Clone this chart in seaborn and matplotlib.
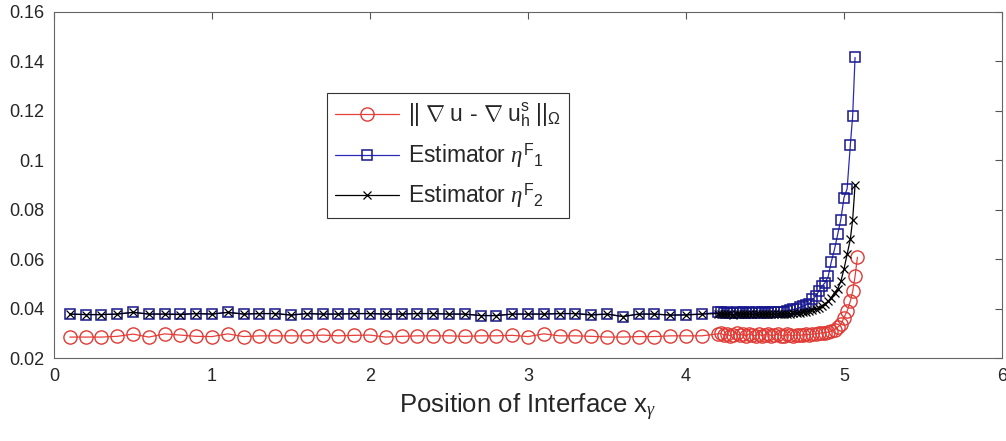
import numpy as np
import pandas as pd
import matplotlib
matplotlib.use("Agg")
import matplotlib.pyplot as plt
import seaborn as sns
from matplotlib.ticker import FixedLocator, FuncFormatter

sns.set_theme(style="white")
plt.rcParams['font.family'] = ['Liberation Sans', 'DejaVu Sans']
plt.rcParams['mathtext.fontset'] = 'custom'
plt.rcParams['mathtext.rm'] = 'Liberation Sans'
plt.rcParams['mathtext.it'] = 'Liberation Serif:italic'
plt.rcParams['mathtext.bf'] = 'Liberation Sans:bold'

# interface positions: coarse sweep, then a fine sweep near the right end
x_uniform = [0.1, 0.2, 0.3, 0.4, 0.5, 0.6, 0.7, 0.8, 0.9, 1.0,
             1.1, 1.2, 1.3, 1.4, 1.5, 1.6, 1.7, 1.8, 1.9, 2.0,
             2.1, 2.2, 2.3, 2.4, 2.5, 2.6, 2.7, 2.8, 2.9, 3.0,
             3.1, 3.2, 3.3, 3.4, 3.5, 3.6, 3.7, 3.8, 3.9, 4.0,
             4.1, 4.2]
x_dense = [4.22, 4.24, 4.26, 4.28, 4.30, 4.32, 4.34, 4.36, 4.38, 4.40,
           4.42, 4.44, 4.46, 4.48, 4.50, 4.52, 4.54, 4.56, 4.58, 4.60,
           4.62, 4.64, 4.66, 4.68, 4.70, 4.72, 4.74, 4.76, 4.78, 4.80,
           4.82, 4.84, 4.86, 4.88, 4.90, 4.92, 4.94, 4.96, 4.98, 5.00,
           5.02, 5.04, 5.055, 5.07]
x_err_extra = [5.085]

err_uniform = [0.0285, 0.0285, 0.0285, 0.0288, 0.0297, 0.0285, 0.0298, 0.0293, 0.0288, 0.0287,
               0.0298, 0.0287, 0.0290, 0.0290, 0.0290, 0.0290, 0.0293, 0.0290, 0.0292, 0.0293,
               0.0285, 0.0288, 0.0290, 0.0290, 0.0290, 0.0288, 0.0290, 0.0290, 0.0292, 0.0287,
               0.0298, 0.0290, 0.0290, 0.0288, 0.0285, 0.0285, 0.0287, 0.0287, 0.0290, 0.0290,
               0.0290, 0.0298]
err_dense = [0.0300, 0.0293, 0.0297, 0.0290, 0.0295, 0.0300, 0.0292, 0.0296, 0.0290, 0.0298,
             0.0293, 0.0290, 0.0297, 0.0291, 0.0295, 0.0299, 0.0290, 0.0294, 0.0297, 0.0291,
             0.0290, 0.0296, 0.0292, 0.0290, 0.0295, 0.0292, 0.0294, 0.0296, 0.0295, 0.0297,
             0.0298, 0.0300, 0.0302, 0.0303, 0.0305, 0.0310, 0.0315, 0.0325, 0.0336, 0.0364,
             0.0390, 0.0430, 0.0470, 0.0530]
err_extra = [0.0608]

est1_uniform = [0.0378, 0.0376, 0.0376, 0.0378, 0.0385, 0.0378, 0.0378, 0.0378, 0.0380, 0.0378,
                0.0385, 0.0378, 0.0380, 0.0380, 0.0374, 0.0380, 0.0378, 0.0378, 0.0380, 0.0380,
                0.0378, 0.0378, 0.0380, 0.0380, 0.0378, 0.0378, 0.0372, 0.0372, 0.0378, 0.0378,
                0.0378, 0.0380, 0.0380, 0.0376, 0.0378, 0.0368, 0.0378, 0.0378, 0.0374, 0.0376,
                0.0378, 0.0385]
est1_dense = [0.0385, 0.0383, 0.0386, 0.0384, 0.0382, 0.0386, 0.0384, 0.0385, 0.0383, 0.0386,
              0.0384, 0.0385, 0.0383, 0.0386, 0.0385, 0.0384, 0.0386, 0.0385, 0.0386, 0.0387,
              0.0388, 0.0390, 0.0393, 0.0397, 0.0400, 0.0405, 0.0410, 0.0415, 0.0420, 0.0437,
              0.0450, 0.0470, 0.0490, 0.0505, 0.0530, 0.0590, 0.0640, 0.0700, 0.0760, 0.0849,
              0.0885, 0.1060, 0.1180, 0.1416]

est2_uniform = [0.0378, 0.0376, 0.0376, 0.0378, 0.0385, 0.0378, 0.0378, 0.0376, 0.0380, 0.0378,
                0.0385, 0.0378, 0.0380, 0.0380, 0.0374, 0.0380, 0.0378, 0.0378, 0.0380, 0.0380,
                0.0378, 0.0378, 0.0380, 0.0380, 0.0378, 0.0378, 0.0372, 0.0372, 0.0378, 0.0378,
                0.0378, 0.0380, 0.0380, 0.0374, 0.0378, 0.0368, 0.0378, 0.0378, 0.0374, 0.0374,
                0.0378, 0.0380]
est2_dense = [0.0378, 0.0377, 0.0378, 0.0377, 0.0376, 0.0378, 0.0377, 0.0378, 0.0377, 0.0378,
              0.0377, 0.0378, 0.0377, 0.0378, 0.0377, 0.0378, 0.0377, 0.0378, 0.0378, 0.0378,
              0.0379, 0.0380, 0.0380, 0.0381, 0.0382, 0.0384, 0.0386, 0.0388, 0.0390, 0.0393,
              0.0398, 0.0403, 0.0410, 0.0420, 0.0430, 0.0445, 0.0465, 0.0480, 0.0510, 0.0560,
              0.0620, 0.0680, 0.0760, 0.0900]

labels = [r'$||\ \nabla\ \mathrm{u}$ - $\nabla\ \mathrm{u}_\mathrm{h}^\mathrm{s}\ ||_{\Omega}$',
          r'Estimator $\eta^{\mathrm{F}}{}_{1}$',
          r'Estimator $\eta^{\mathrm{F}}{}_{2}$']

x_err = x_uniform + x_dense + x_err_extra
y_err = err_uniform + err_dense + err_extra
x_est = x_uniform + x_dense
y_est1 = est1_uniform + est1_dense
y_est2 = est2_uniform + est2_dense

fig = plt.figure(figsize=(10.06, 4.41), dpi=100)
ax = fig.add_axes([0.0537, 0.188, 0.9423, 0.785])

sns.lineplot(x=x_err, y=y_err, ax=ax, sort=False, estimator=None,
             color='#e8403a', lw=0.9, marker='o', markersize=9.5,
             markerfacecolor='none', markeredgecolor='#e03a34', markeredgewidth=1.0,
             label=labels[0])
sns.lineplot(x=x_est, y=y_est1, ax=ax, sort=False, estimator=None,
             color='#2a2ab8', lw=0.9, marker='s', markersize=6.5,
             markerfacecolor='none', markeredgecolor='#18188e', markeredgewidth=1.1,
             label=labels[1])
sns.lineplot(x=x_est, y=y_est2, ax=ax, sort=False, estimator=None,
             color='black', lw=0.9, marker='x', markersize=6,
             markeredgecolor='black', markeredgewidth=0.9,
             label=labels[2])

ax.set_xlim(0, 6)
ax.set_ylim(0.02, 0.16)
ax.xaxis.set_major_locator(FixedLocator([0, 1, 2, 3, 4, 5, 6]))
ax.yaxis.set_major_locator(FixedLocator([0.02, 0.04, 0.06, 0.08, 0.10, 0.12, 0.14, 0.16]))
ax.yaxis.set_major_formatter(FuncFormatter(lambda v, p: ('%.2f' % v).rstrip('0')))
ax.tick_params(direction='in', length=5, width=0.8, top=True, right=True,
               labelsize=13, colors='#555555', labelcolor='#262626', pad=7)
for s in ax.spines.values():
    s.set_color('#666666')
    s.set_linewidth(0.8)

ax.set_xlabel(r'Position of Interface $\mathrm{x}_{\gamma}$', fontsize=18.5, color='#262626', labelpad=5)
ax.set_ylabel('')

leg = ax.legend(loc='upper left', bbox_to_anchor=(0.288, 0.766), borderaxespad=0,
                fontsize=16.5, frameon=True, fancybox=False, edgecolor='black',
                handlelength=2.8, handletextpad=0.4, labelspacing=0.5, borderpad=0.35)
leg.get_frame().set_linewidth(0.8)

fig.savefig('out.png', dpi=100)
